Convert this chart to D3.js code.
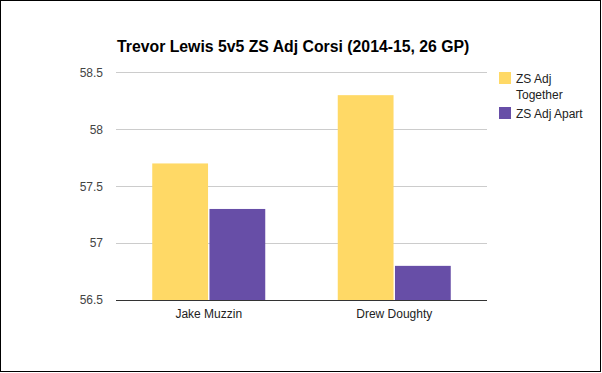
<!DOCTYPE html>
<html>
<head>
<meta charset="utf-8">
<script src="https://cdn.jsdelivr.net/npm/d3@7"></script>
<style>
html,body{margin:0;padding:0;background:#fff;}
svg{display:block;font-family:Arial,"Liberation Sans",sans-serif;}
</style>
</head>
<body>
<svg id="chart" width="602" height="373"></svg>
<script>
const categories = ["Jake Muzzin", "Drew Doughty"];
const seriesNames = ["ZS Adj Together", "ZS Adj Apart"];
const togetherValues = [57.7, 58.3];
const apartValues = [57.3, 56.8];
const yTicks = [56.5, 57, 57.5, 58, 58.5];
const colors = ["#FFD966", "#674EA7"];
const title = "Trevor Lewis 5v5 ZS Adj Corsi (2014-15, 26 GP)";

(function () {
const svg = d3.select("#chart");
const pL = 116, pR = 487, pT = 72.4, pB = 300;

svg.append("rect").attr("x",0.5).attr("y",0.5).attr("width",600).attr("height",371)
  .attr("fill","#fff").attr("stroke","#000").attr("stroke-width",1);

const y = d3.scaleLinear().domain([56.5, 58.5]).range([pB, pT]);
const x0 = d3.scaleBand().domain(categories).range([pL, pR]).padding(0);
const groupW = 113;
const x1 = d3.scaleBand().domain(seriesNames).range([0, groupW]).paddingInner(0.025);

// gridlines
svg.append("g").selectAll("line").data(yTicks.filter(t => t !== 56.5)).join("line")
  .attr("x1", pL).attr("x2", pR)
  .attr("y1", d => Math.round(y(d)) + 0.5).attr("y2", d => Math.round(y(d)) + 0.5)
  .attr("stroke", "#cccccc").attr("stroke-width", 1);

// y axis labels
const yAxis = d3.axisLeft(y).tickValues(yTicks).tickSize(0).tickPadding(0).tickFormat(d3.format(""));
const gy = svg.append("g").attr("transform", `translate(${pL - 13},0)`).call(yAxis);
gy.select(".domain").remove();
gy.selectAll("text").attr("font-size", 12).attr("fill", "#444").attr("font-family", "Arial, 'Liberation Sans', sans-serif");

// bars
const data = categories.map((c, i) => ({cat: c, vals: [togetherValues[i], apartValues[i]]}));
const groups = svg.append("g").selectAll("g").data(data).join("g")
  .attr("transform", d => `translate(${x0(d.cat) + (x0.bandwidth() - groupW) / 2},0)`);
groups.selectAll("rect").data(d => d.vals.map((v, j) => ({s: seriesNames[j], v, j}))).join("rect")
  .attr("x", d => x1(d.s)).attr("width", x1.bandwidth())
  .attr("y", d => y(d.v)).attr("height", d => y(56.5) - y(d.v))
  .attr("fill", d => colors[d.j]);

// baseline
svg.append("line").attr("x1", pL).attr("x2", pR).attr("y1", pB + 0.5).attr("y2", pB + 0.5)
  .attr("stroke", "#333").attr("stroke-width", 1);

// x axis labels
const xAxis = d3.axisBottom(x0).tickSize(0).tickPadding(0);
const gx = svg.append("g").attr("transform", `translate(0,${pB})`).call(xAxis);
gx.select(".domain").remove();
gx.selectAll("text").attr("font-size", 12).attr("fill", "#222").attr("dy", null).attr("y", 17.5)
  .attr("font-family", "Arial, 'Liberation Sans', sans-serif");

// title
svg.append("text").attr("x", 117).attr("y", 52).attr("font-size", 15.8).attr("font-weight", "bold")
  .attr("fill", "#000").text(title);

// legend
const legend = [
  {lines: ["ZS Adj", "Together"], y: 72},
  {lines: ["ZS Adj Apart"], y: 107}
];
legend.forEach((l, i) => {
  svg.append("rect").attr("x", 499).attr("y", l.y).attr("width", 12).attr("height", 12).attr("fill", colors[i]);
  l.lines.forEach((t, k) => {
    svg.append("text").attr("x", 516).attr("y", l.y + 11 + k * 15.5).attr("font-size", 12)
      .attr("fill", "#222").text(t);
  });
});
})();
</script>
</body>
</html>
